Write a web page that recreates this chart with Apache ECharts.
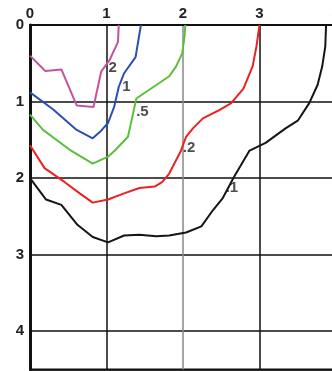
<!DOCTYPE html>
<html>
<head>
<meta charset="utf-8">
<script src="https://cdn.jsdelivr.net/npm/echarts@6/dist/echarts.min.js"></script>
<style>
  html, body { margin: 0; padding: 0; background: #fff; }
  #chart { width: 332px; height: 371px; }
</style>
</head>
<body>
<div id="chart"></div>
<script>
// contour curves, [x, depth]
var curve2 = [[0, 0.40], [0.2, 0.60], [0.41, 0.58], [0.61, 1.05], [0.83, 1.07], [0.93, 0.61], [1.04, 0.46], [1.15, 0.22], [1.16, 0]];
var curve1 = [[0, 0.88], [0.3, 1.10], [0.61, 1.37], [0.82, 1.48], [0.93, 1.38], [1.02, 1.28], [1.10, 1.07], [1.16, 0.81], [1.23, 0.63], [1.38, 0.42], [1.45, 0]];
var curve05 = [[0, 1.17], [0.17, 1.37], [0.52, 1.63], [0.82, 1.81], [1.02, 1.72], [1.12, 1.63], [1.28, 1.46], [1.30, 1.37], [1.39, 0.96], [1.82, 0.67], [1.91, 0.54], [1.99, 0.37], [2.02, 0.15], [2.03, 0]];
var curve02 = [[0, 1.57], [0.19, 1.87], [0.45, 2.05], [0.65, 2.20], [0.82, 2.32], [1.02, 2.28], [1.23, 2.20], [1.43, 2.13], [1.63, 2.11], [1.73, 2.05], [1.82, 1.94], [1.97, 1.65], [2.04, 1.46], [2.13, 1.35], [2.26, 1.22], [2.48, 1.11], [2.63, 1.02], [2.79, 0.83], [2.91, 0.54], [2.96, 0.28], [3.0, 0]];
var curve01 = [[0, 2.0], [0.21, 2.28], [0.41, 2.35], [0.62, 2.61], [0.82, 2.77], [1.02, 2.84], [1.23, 2.75], [1.43, 2.74], [1.65, 2.76], [1.82, 2.75], [2.04, 2.71], [2.24, 2.63], [2.39, 2.42], [2.52, 2.26], [2.67, 1.98], [2.87, 1.64], [3.08, 1.54], [3.34, 1.35], [3.50, 1.25], [3.65, 1.02], [3.76, 0.78], [3.82, 0.54], [3.86, 0.28], [3.87, 0]];
var curveLabels = [[1.08, 0.56, '2'], [1.26, 0.81, '1'], [1.47, 1.14, '.5'], [2.08, 1.61, '.2'], [2.64, 2.13, '.1']];

var xTicks = ['0', '1', '2', '3', '4'];
var yTicks = ['0', '1', '2', '3', '4'];

var font = '"Liberation Sans Narrow", "Liberation Sans", sans-serif';

var chart = echarts.init(document.getElementById('chart'));

function line(data, color) {
  return {
    type: 'line',
    data: data,
    symbol: 'none',
    smooth: false,
    lineStyle: { color: color, width: 2 },
    z: 3
  };
}

chart.setOption({
  animation: false,
  grid: {
    left: 30, top: 25, width: 306, height: 344.5,
    containLabel: false, outerBoundsMode: 'none',
    show: true, borderColor: '#111', borderWidth: 2
  },
  xAxis: {
    type: 'value', position: 'top', min: 0, max: 4, interval: 1,
    axisLine: { show: true, lineStyle: { color: '#111', width: 2 } },
    axisTick: { show: false },
    axisLabel: {
      margin: 4, color: '#222', fontSize: 15, fontWeight: 'bold', fontFamily: font,
      formatter: function (v) { return xTicks[v] || ''; }
    },
    splitLine: { show: true, lineStyle: { color: ['#111', '#111', '#888', '#111', '#111'], width: 1.5 } }
  },
  yAxis: {
    type: 'value', inverse: true, min: 0, max: 4.5, interval: 1,
    axisLine: { show: true, lineStyle: { color: '#111', width: 3 } },
    axisTick: { show: false },
    axisLabel: {
      margin: 6, color: '#222', fontSize: 15, fontWeight: 'bold', fontFamily: font,
      formatter: function (v) { return Number.isInteger(v) ? yTicks[v] : ''; }
    },
    splitLine: { show: true, lineStyle: { color: '#111', width: 1.5 } }
  },
  series: [
    line(curve2, '#c2549c'),
    line(curve1, '#2d4fb5'),
    line(curve05, '#5cbf3a'),
    line(curve02, '#ee2020'),
    line(curve01, '#151515'),
    {
      type: 'scatter',
      data: curveLabels,
      symbolSize: 0,
      z: 4,
      label: {
        show: true, position: 'inside', color: '#222',
        fontSize: 15, fontWeight: 'bold', fontFamily: font,
        formatter: function (p) { return p.data[2]; }
      }
    }
  ]
});
</script>
</body>
</html>
